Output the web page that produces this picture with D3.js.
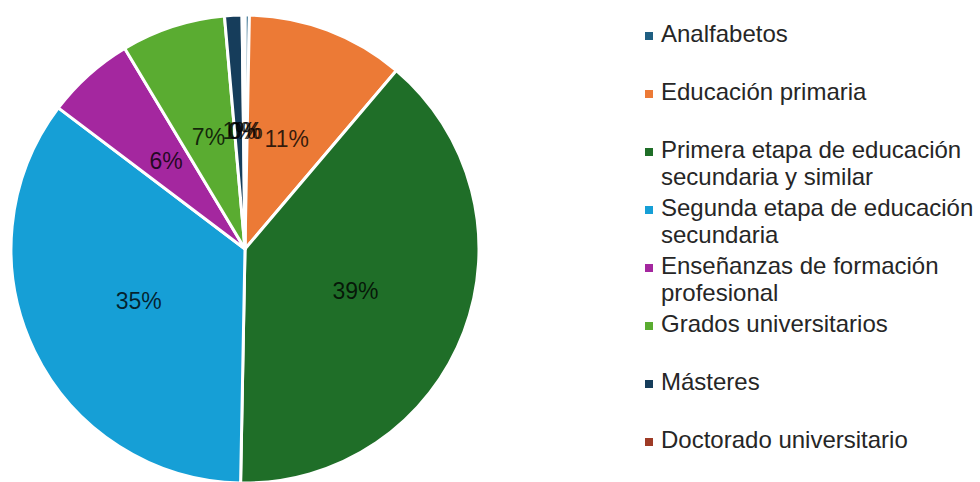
<!DOCTYPE html>
<html>
<head>
<meta charset="utf-8">
<script src="https://cdn.jsdelivr.net/npm/d3@7"></script>
<style>
  body { margin: 0; background: #fff; }
  text { font-family: "Liberation Sans", Arial, sans-serif; }
</style>
</head>
<body>
<svg id="body" width="980" height="482"></svg>
<script>
// niveles de estudios, % sobre el total
let categories = [
  "Analfabetos",
  "Educación primaria",
  "Primera etapa de educación secundaria y similar",
  "Segunda etapa de educación secundaria",
  "Enseñanzas de formación profesional",
  "Grados universitarios",
  "Másteres",
  "Doctorado universitario"
];
let legendLines = [
  ["Analfabetos"],
  ["Educación primaria"],
  ["Primera etapa de educación", "secundaria y similar"],
  ["Segunda etapa de educación", "secundaria"],
  ["Enseñanzas de formación", "profesional"],
  ["Grados universitarios"],
  ["Másteres"],
  ["Doctorado universitario"]
];
let values = [0.3, 10.9, 39.1, 35.0, 6.1, 7.2, 1.2, 0.2];
let colors = ["#1f5f82", "#ec7a36", "#1f6e28", "#169fd6", "#a4279f", "#5aac31", "#163d5b", "#9e3b26"];

let svg = d3.select("#body");
let total = d3.sum(values);
let pct = d3.format(".0%");

let cx = 245, cy = 249, radius = 234;

let pie = d3.pie().sort(null).value(d => d)
            .startAngle(0).endAngle(2 * Math.PI);
let arc = d3.arc().innerRadius(0).outerRadius(radius);
let labelArc = d3.arc().innerRadius(radius * 0.505).outerRadius(radius * 0.505);

let g = svg.append("g").attr("transform", `translate(${cx},${cy})`);
let arcs = pie(values);

g.selectAll("path")
 .data(arcs)
 .enter()
 .append("path")
 .attr("d", arc)
 .attr("fill", (d, i) => colors[i])
 .attr("stroke", "#fff")
 .attr("stroke-width", 3)
 .attr("stroke-linejoin", "round");

g.selectAll("text.lbl")
 .data(arcs)
 .enter()
 .append("text")
 .attr("class", "lbl")
 .attr("transform", d => `translate(${labelArc.centroid(d)})`)
 .attr("text-anchor", "middle")
 .attr("dy", "0.35em")
 .attr("font-size", 23)
 .attr("fill", "#000")
 .attr("fill-opacity", 0.78)
 .text(d => pct(d.value / total));

// leyenda
let legendY = d3.scalePoint().domain(d3.range(categories.length)).range([42, 448]);

let leg = svg.selectAll("g.leg")
  .data(categories)
  .enter()
  .append("g")
  .attr("class", "leg")
  .attr("transform", (d, i) => `translate(645,${legendY(i)})`);

leg.append("rect")
   .attr("x", 0)
   .attr("y", -10)
   .attr("width", 8)
   .attr("height", 8)
   .attr("fill", (d, i) => colors[i]);

leg.each(function(d, i) {
  d3.select(this).selectAll("text")
    .data(legendLines[i])
    .enter()
    .append("text")
    .attr("x", 16)
    .attr("y", (t, j) => j * 27)
    .attr("font-size", 24)
    .attr("fill", "#262626")
    .text(t => t);
});
</script>
</body>
</html>
